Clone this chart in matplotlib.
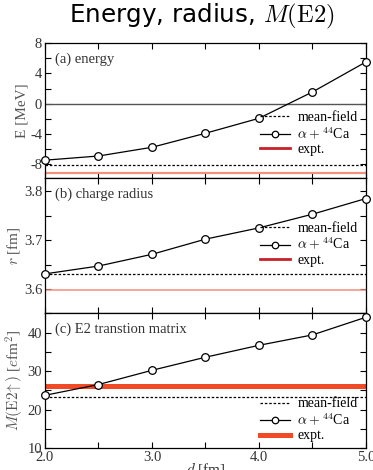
import matplotlib
matplotlib.use('Agg')
import matplotlib.pyplot as plt
from matplotlib.ticker import MultipleLocator
import numpy as np

# data
d = [2.0, 2.5, 3.0, 3.5, 4.0, 4.5, 5.0]
energy = [-7.45, -6.9, -5.75, -3.9, -1.93, 1.54, 5.5]
radius = [3.631, 3.647, 3.671, 3.702, 3.725, 3.753, 3.785]
me2 = [23.7, 26.5, 30.2, 33.6, 36.7, 39.4, 44.0]

mf_energy = -8.1
mf_radius = 3.631
mf_me2 = 23.2
ex_energy = -9.2
ex_radius = 3.598
ex_me2 = 26.0

panel_text = ['(a) energy', '(b) charge radius', '(c) E2 transtion matrix']
ylabels = ['E [MeV]', r'$r$ [fm]', r'$M(\mathrm{E2}\!\uparrow)$ [$e$fm$^2$]']

plt.rcParams['font.family'] = ['Liberation Serif', 'DejaVu Serif']
plt.rcParams['mathtext.fontset'] = 'cm'

fig, axes = plt.subplots(3, 1, figsize=(3.73, 4.70), dpi=100, sharex=True)
fig.subplots_adjust(left=0.1206, right=0.981, top=0.9085, bottom=0.0468, hspace=0)
fig.suptitle(r'Energy, radius, $M(\mathrm{E2})$', family='DejaVu Sans', fontsize=17.7,
             x=0.54, y=0.995)

series = [energy, radius, me2]
mf = [mf_energy, mf_radius, mf_me2]
ex = [ex_energy, ex_radius, ex_me2]
ylims = [(-9.8, 8), (3.551, 3.827), (10, 45.1)]
majors = [4, 0.1, 10]
minors = [2, 0.05, 5]
legend_anchor = [(1.0, 0.1), (1.0, 0.28), (1.0, -0.02)]

for i, ax in enumerate(axes):
    ax.axhline(mf[i], color='black', ls=(0, (2, 1.5)), lw=0.9, label='mean-field')
    ax.plot(d, series[i], '-o', color='black', lw=0.9, ms=5.5, mfc='white',
            mec='black', mew=0.9, label=r'$\alpha+^{44}$Ca', clip_on=False, zorder=5)
    if i < 2:
        ax.axhline(ex[i], color='#f4907c', lw=1.6 if i == 0 else 1.1)
        ax.plot([], [], color='#c8202a', lw=2, label='expt.')
    else:
        ax.axhline(ex[i], color='#f04a26', lw=3.6, label='expt.')
    if i == 0:
        ax.axhline(0, color='#555555', lw=1.0)
    ax.set_ylim(*ylims[i])
    ax.set_xlim(2.0, 5.0)
    ax.yaxis.set_major_locator(MultipleLocator(majors[i]))
    ax.yaxis.set_minor_locator(MultipleLocator(minors[i]))
    ax.xaxis.set_major_locator(MultipleLocator(1.0))
    ax.xaxis.set_minor_locator(MultipleLocator(0.5))
    ax.tick_params(which='both', direction='in', top=True, right=True,
                   labelsize=10.5, labelcolor='#333333', width=0.8, pad=2)
    ax.tick_params(which='major', length=4)
    ax.tick_params(which='minor', length=4)
    for s in ax.spines.values():
        s.set_linewidth(0.9)
    ax.set_ylabel(ylabels[i], fontsize=11, color='#555555', labelpad=1)
    ax.text(0.031, 0.93, panel_text[i], transform=ax.transAxes, fontsize=10.5,
            color='#333333', va='top')
    leg = ax.legend(loc='lower right', bbox_to_anchor=legend_anchor[i], frameon=False,
                    fontsize=10, handlelength=2.2, labelspacing=0.1, borderaxespad=0.2,
                    handletextpad=0.5, markerscale=0.85)

axes[0].yaxis.set_major_formatter(lambda v, p: '%d' % v)
axes[1].yaxis.set_major_formatter(lambda v, p: '%.1f' % v)
axes[2].yaxis.set_major_formatter(lambda v, p: '%d' % v)
axes[2].xaxis.set_major_formatter(lambda v, p: '%.1f' % v)
axes[2].set_xlabel(r'$d$ [fm]', fontsize=11, color='#333333', labelpad=-2)

fig.savefig('out.png', dpi=100)
